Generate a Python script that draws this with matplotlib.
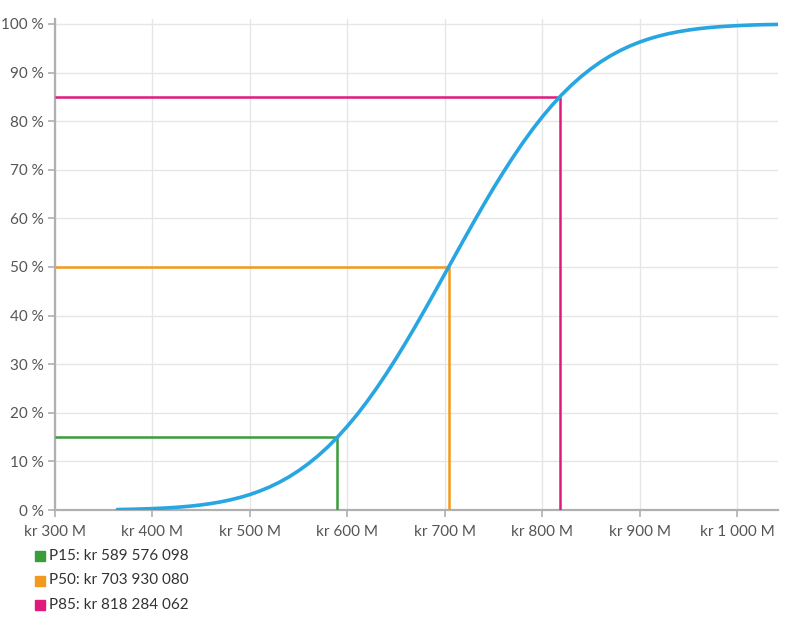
import matplotlib
matplotlib.use('Agg')
import matplotlib.pyplot as plt
import matplotlib.patches as mpatches
from matplotlib.ticker import FuncFormatter

# ─── Data ────────────────────────────────────────────────────────────────────

# cost in millions of kr, cumulative probability in %
cost_m = [364, 370, 380, 390, 400, 410, 420, 430, 440, 450, 460, 470, 480,
          490, 500, 510, 520, 530, 540, 550, 560, 570, 580, 590, 600, 610,
          620, 630, 640, 650, 660, 670, 680, 690, 700, 710, 720, 730, 740,
          750, 760, 770, 780, 790, 800, 810, 820, 830, 840, 850, 860, 870,
          880, 890, 900, 910, 920, 930, 940, 950, 960, 970, 980, 990, 1000,
          1010, 1020, 1030, 1042]
prob_pct = [0.1, 0.12, 0.16, 0.22, 0.29, 0.38, 0.49, 0.64, 0.82, 1.05, 1.33,
            1.67, 2.09, 2.59, 3.18, 3.89, 4.72, 5.68, 6.8, 8.08, 9.53, 11.16,
            12.98, 15.01, 17.23, 19.63, 22.25, 25.05, 28.03, 31.17, 34.46,
            37.86, 41.37, 44.94, 48.56, 52.17, 55.78, 59.34, 62.82, 66.22,
            69.46, 72.57, 75.52, 78.29, 80.86, 83.24, 85.42, 87.4, 89.18,
            90.77, 92.19, 93.44, 94.52, 95.46, 96.26, 96.95, 97.52, 98.01,
            98.4, 98.73, 99.0, 99.22, 99.39, 99.53, 99.64, 99.73, 99.8,
            99.85, 99.89]

pct_names = ['P15', 'P50', 'P85']
pct_levels = [15, 50, 85]
pct_values = [589576098, 703930080, 818284062]
pct_colors = ['#3a9c3a', '#f39a1e', '#e0197f']

x_ticks = [300, 400, 500, 600, 700, 800, 900, 1000]
y_ticks = [0, 10, 20, 30, 40, 50, 60, 70, 80, 90, 100]


def spaced(n):
    return f"{n:,}".replace(',', ' ')


plt.rcParams['font.family'] = ['Lato', 'DejaVu Sans']

fig = plt.figure(figsize=(8.05, 6.2), dpi=100)
ax = fig.add_axes([0.0683, 0.1774, 0.8982, 0.7919])

x_lo, x_hi = 300, 1042
ax.set_xlim(x_lo, x_hi)
ax.set_ylim(0, 101)

# grid
ax.set_xticks(x_ticks)
ax.set_yticks(y_ticks)
ax.grid(True, color='#e6e6e6', linewidth=1)
ax.set_axisbelow(True)

# percentile guide lines
for lvl, val, col in zip(pct_levels, pct_values, pct_colors):
    xv = val / 1e6
    ax.plot([x_lo, xv], [lvl, lvl], color=col, lw=1.8, zorder=3,
            solid_capstyle='butt')
    ax.plot([xv, xv], [0, lvl], color=col, lw=1.8, zorder=3,
            solid_capstyle='butt')

# cumulative curve
ax.plot(cost_m, prob_pct, color='#27a6e1', lw=2.6, zorder=4,
        solid_capstyle='round', solid_joinstyle='round')

# spines
for s in ['top', 'right']:
    ax.spines[s].set_visible(False)
ax.spines['left'].set_color('#b0b0b0')
ax.spines['left'].set_linewidth(1.6)
ax.spines['bottom'].set_color('#b0b0b0')
ax.spines['bottom'].set_linewidth(1.6)

ax.xaxis.set_major_formatter(FuncFormatter(lambda v, p: f"kr {spaced(int(v))} M"))
ax.yaxis.set_major_formatter(FuncFormatter(lambda v, p: f"{int(v)} %"))
ax.tick_params(axis='both', colors='#b0b0b0', labelcolor='#555555',
               labelsize=11, length=5, width=1.2)
ax.tick_params(axis='x', pad=6)
ax.tick_params(axis='y', pad=3)

# legend below the chart
W, H = 805, 620
for i, (name, val, col) in enumerate(zip(pct_names, pct_values, pct_colors)):
    yc = 556 + i * 24.5
    sq = 10
    fig.add_artist(mpatches.Rectangle((35 / W, 1 - (yc + sq / 2) / H),
                                      sq / W, sq / H, color=col,
                                      transform=fig.transFigure))
    fig.text(49 / W, 1 - yc / H, f"{name}: kr {spaced(val)}", fontsize=11,
             color='#333333', va='center', ha='left')

fig.savefig('out.png', dpi=100)
